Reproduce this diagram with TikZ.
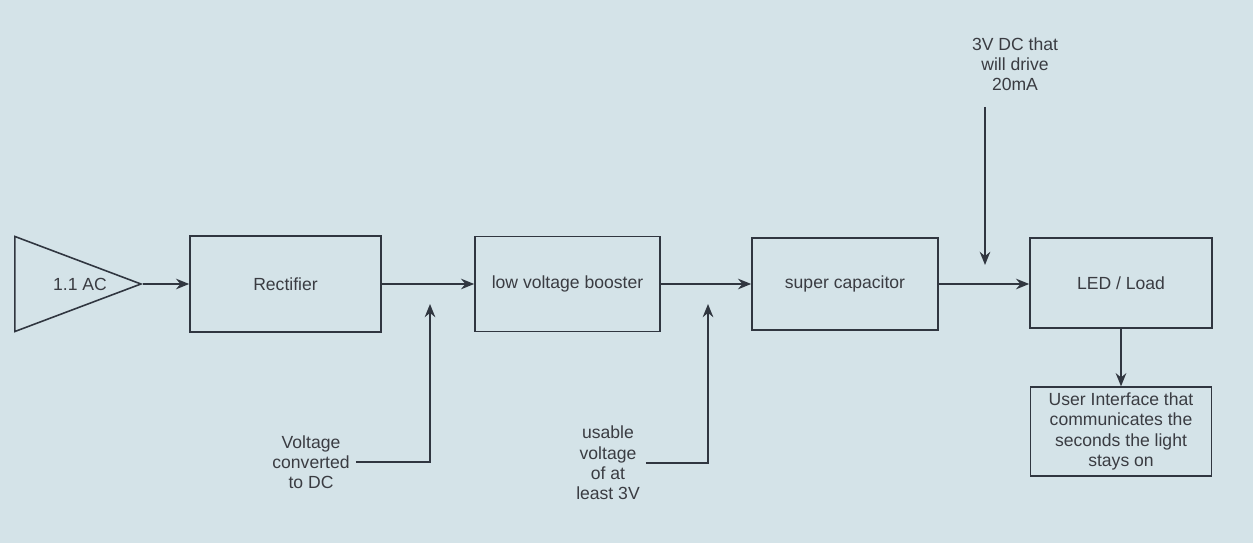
\documentclass[tikz,border=0pt]{standalone}
\usepackage{fontspec}
\setmainfont{Liberation Sans}
\usetikzlibrary{positioning,arrows.meta,shapes.geometric}

\definecolor{screenbg}{RGB}{212,227,232}
\definecolor{inkline}{RGB}{48,54,64}
\definecolor{inktext}{RGB}{58,60,66}

\begin{document}
\begin{tikzpicture}[
    box/.style={
        rectangle,
        draw=inkline,
        line width=0.9pt,
        align=center,
        text=inktext,
        font=\fontsize{10}{11.5}\selectfont
    },
    note/.style={
        align=center,
        text=inktext,
        font=\fontsize{10}{11.5}\selectfont
    },
    arrow/.style={
        -{Stealth[length=7.5pt,width=6pt]},
        draw=inkline,
        line width=1.1pt
    }
]

% screen background
\fill[screenbg] (0,0) rectangle (25.06,10.86);
\useasboundingbox (0,0) rectangle (25.06,10.86);

% signal chain
\node[isosceles triangle, isosceles triangle stretches, shape border rotate=0,
      draw=inkline, line width=0.9pt, minimum width=1.9cm, minimum height=2.52cm,
      inner sep=0pt, anchor=apex] (src) at (2.86,5.18) {};
\node[note] (srctext) at (1.6,5.18) {1.1 AC};

\node[box, minimum width=3.82cm, minimum height=1.92cm] (rect) at (5.71,5.18)
{Rectifier};

\node[box, minimum width=3.7cm, minimum height=1.9cm] (boost) at (11.35,5.18)
{low voltage booster};

\node[box, minimum width=3.72cm, minimum height=1.84cm] (cap) at (16.9,5.18)
{super capacitor};

\node[box, minimum width=3.64cm, minimum height=1.8cm] (led) at (22.42,5.2)
{LED / Load};

\node[box, minimum width=3.62cm, minimum height=1.74cm] (ui) at (22.42,2.23)
{User Interface that\\
communicates the\\
seconds the light\\
stays on};

\draw[arrow] (src.apex) -- (rect.west);
\draw[arrow] (rect.east) -- (boost.west);
\draw[arrow] (boost.east) -- (cap.west);
\draw[arrow] (cap.east) -- (led.west |- cap.east);
\draw[arrow] (led.south) -- (ui.north);

% annotations
\node[note] (dc) at (6.22,1.62)
{Voltage\\
converted\\
to DC};
\coordinate (dctip) at (8.6,4.78);
\draw[arrow] (dc.east) -| (dctip);

\node[note] (usable) at (12.16,1.6)
{usable\\
voltage\\
of at\\
least 3V};
\coordinate (usabletip) at (14.16,4.78);
\draw[arrow] (usable.east) -| (usabletip);

\node[note] (drive) at (20.3,9.58)
{3V DC that\\
will drive\\
20mA};
\coordinate (drivetop) at (19.7,8.72);
\coordinate (driveend) at (19.7,5.56);
\draw[arrow] (drivetop) -- (driveend);

\end{tikzpicture}
\end{document}
